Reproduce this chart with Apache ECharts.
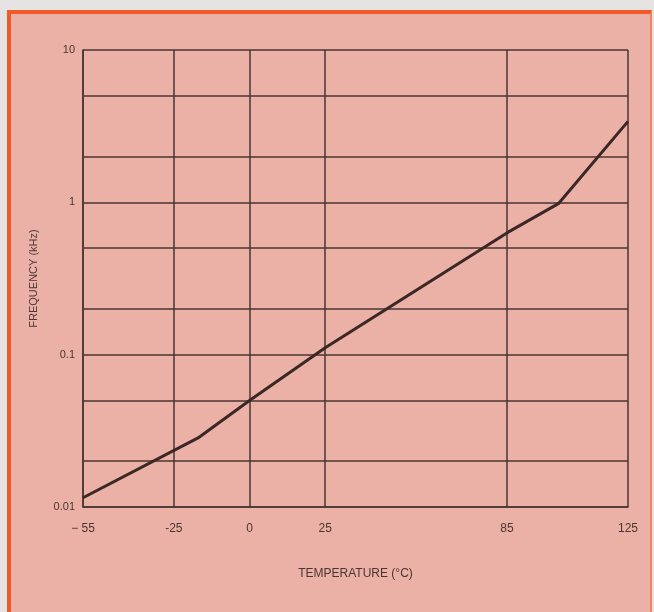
<!DOCTYPE html>
<html>
<head>
<meta charset="utf-8">
<script src="https://cdn.jsdelivr.net/npm/echarts@6/dist/echarts.min.js"></script>
<style>
html,body{margin:0;padding:0;background:#e6e4e2;}
#frame{position:absolute;left:7px;top:10px;width:639px;height:612px;border:4px solid #f05a28;border-right:2px solid #f0875c;border-bottom:none;background:#ebb1a6;}
#chart{position:absolute;left:0;top:0;width:654px;height:612px;}
</style>
</head>
<body>
<div id="frame"></div>
<div id="chart"></div>
<script>
// Data
const temperatures = [-55, -17, 0, 25, 85, 102, 125];
const frequencies  = [0.0115, 0.0284, 0.05, 0.111, 0.63, 0.98, 3.4];
const xTickValues  = [-55, -25, 0, 25, 85, 125];
const xTickLabels  = ['\u2212 55', '-25', '0', '25', '85', '125'];
const yDecades     = [0.01, 0.1, 1, 10];
const yDecadeLabels = ['0.01', '0.1', '1', '10'];
const yMinorGrid   = [0.02, 0.05, 0.2, 0.5, 2, 5];

const ink = '#4a3632';
const font = 'Liberation Sans';

const gridLines = [];
xTickValues.forEach(v => gridLines.push({xAxis: v}));
yMinorGrid.concat(yDecades).forEach(v => gridLines.push({yAxis: v}));

const chart = echarts.init(document.getElementById('chart'));
chart.setOption({
  backgroundColor: 'transparent',
  animation: false,
  grid: {left: 83, right: 26, top: 50, bottom: 105, containLabel: false},
  xAxis: {
    type: 'value', min: -55, max: 125, interval: 5,
    name: 'TEMPERATURE (\u00B0C)', nameLocation: 'middle', nameGap: 61,
    nameTextStyle: {color: ink, fontFamily: font, fontSize: 12},
    axisLine: {show: true, onZero: false, lineStyle: {color: ink, width: 1.5}},
    axisTick: {show: false},
    splitLine: {show: false},
    axisLabel: {
      color: ink, fontFamily: font, fontSize: 12, margin: 16,
      formatter: v => { const i = xTickValues.indexOf(v); return i >= 0 ? xTickLabels[i] : ''; }
    }
  },
  yAxis: {
    type: 'log', logBase: 10, min: 0.01, max: 10,
    name: 'FREQUENCY (kHz)', nameLocation: 'middle', nameGap: 44, nameRotate: 90,
    nameTextStyle: {color: ink, fontFamily: font, fontSize: 11},
    axisLine: {show: true, onZero: false, lineStyle: {color: ink, width: 1.5}},
    axisTick: {show: false},
    splitLine: {show: false},
    axisLabel: {
      color: ink, fontFamily: font, fontSize: 11, margin: 8,
      formatter: v => { for (let i = 0; i < yDecades.length; i++) { if (Math.abs(v - yDecades[i]) / yDecades[i] < 1e-6) return yDecadeLabels[i]; } return ''; }
    }
  },
  series: [{
    type: 'line',
    data: temperatures.map((t, i) => [t, frequencies[i]]),
    symbol: 'none',
    lineStyle: {color: '#3b2826', width: 3},
    z: 5,
    markLine: {
      silent: true, symbol: 'none', label: {show: false},
      lineStyle: {color: ink, width: 1.5, type: 'solid'},
      data: gridLines,
      z: 1
    }
  }]
});
</script>
</body>
</html>
